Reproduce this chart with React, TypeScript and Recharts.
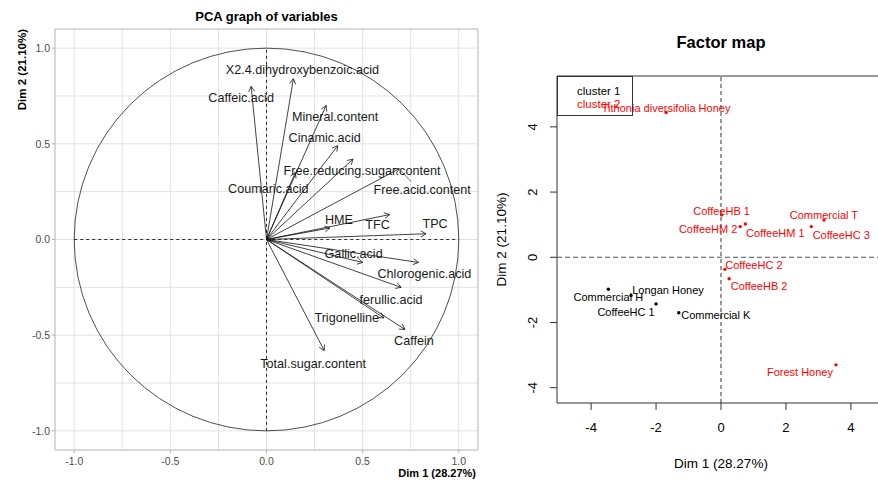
import React from 'react';
import {
  ScatterChart,
  Scatter,
  XAxis,
  YAxis,
  CartesianGrid,
  ReferenceLine,
  ReferenceArea,
  Legend,
} from 'recharts';

// ---- PCA graph of variables (correlation circle) ----
const varNames = [
  'Caffeic.acid',
  'X2.4.dihydroxybenzoic.acid',
  'Mineral.content',
  'Cinamic.acid',
  'Free.reducing.sugar.content',
  'Free.acid.content',
  'Coumaric.acid',
  'HME',
  'TFC',
  'TPC',
  'Gallic.acid',
  'Chlorogenic.acid',
  'ferullic.acid',
  'Trigonelline',
  'Caffein',
  'Total.sugar.content',
];
const varDim1 = [-0.08, 0.14, 0.31, 0.37, 0.45, 0.69, 0.15, 0.33, 0.64, 0.83, 0.5, 0.79, 0.7, 0.61, 0.72, 0.3];
const varDim2 = [0.8, 0.84, 0.7, 0.49, 0.42, 0.37, 0.35, 0.06, 0.13, 0.03, -0.12, -0.12, -0.25, -0.41, -0.47, -0.58];
// where each label sits relative to its arrow tip (px), like the repelled labels
const varLabelNudge = [
  [-10, 11], [9, -9], [9, 11], [-13, -8], [9, 11], [23, 21], [-27, 16], [9, -9],
  [-12, 10], [9, -10], [-9, -9], [6, 11], [-10, 12], [-37, 0], [9, 11], [-11, 13],
];
const corTicks = [-1, -0.5, 0, 0.5, 1];
const corGrid = [-1, -0.75, -0.5, -0.25, 0, 0.25, 0.5, 0.75, 1];
const corDomain = [-1.1, 1.1];

// ---- Factor map (individuals) ----
const c1Names = ['Commercial H', 'Longan Honey', 'CoffeeHC 1', 'Commercial K'];
const c1Dim1 = [-3.47, -2.77, -2.0, -1.3];
const c1Dim2 = [-0.98, -1.17, -1.43, -1.7];
const c1Nudge = [[0, 8], [37, -5], [-30, 8], [37, 2]];

const c2Names = [
  'Tithonia diversifolia Honey',
  'CoffeeHB 1',
  'Commercial T',
  'CoffeeHM 2',
  'CoffeeHM 1',
  'CoffeeHC 3',
  'CoffeeHC 2',
  'CoffeeHB 2',
  'Forest Honey',
];
const c2Dim1 = [-1.69, 0.02, 3.17, 0.59, 0.75, 2.78, 0.12, 0.25, 3.54];
const c2Dim2 = [4.44, 1.3, 1.14, 0.94, 1.02, 0.94, -0.37, -0.66, -3.3];
const c2Nudge = [[0, -5], [0, -4], [0, -5], [-32, 2], [30, 9], [30, 8], [29, -4], [30, 7], [-36, 7]];

const mapTicks = [-4, -2, 0, 2, 4];
const mapXDomain = [-5.05, 5.05];
const mapYDomain = [-4.47, 5.56];

const FONT = '"Liberation Sans", Arial, sans-serif';

const varData = varNames.map((name, i) => ({ name, x: varDim1[i], y: varDim2[i], nudge: varLabelNudge[i] }));
const c1Data = c1Names.map((name, i) => ({ name, x: c1Dim1[i], y: c1Dim2[i], nudge: c1Nudge[i] }));
const c2Data = c2Names.map((name, i) => ({ name, x: c2Dim1[i], y: c2Dim2[i], nudge: c2Nudge[i] }));

function Arrow(p: any) {
  const { x1, y1, x2, y2 } = p;
  const a = Math.atan2(y2 - y1, x2 - x1);
  const len = 6;
  const h = Math.PI / 6;
  const ax = x2 - len * Math.cos(a - h);
  const ay = y2 - len * Math.sin(a - h);
  const bx = x2 - len * Math.cos(a + h);
  const by = y2 - len * Math.sin(a + h);
  return (
    <g>
      <line x1={x1} y1={y1} x2={x2} y2={y2} stroke="#111" strokeWidth={0.8} />
      <path d={`M${ax},${ay}L${x2},${y2}L${bx},${by}`} fill="none" stroke="#111" strokeWidth={0.8} />
    </g>
  );
}

function VarLabel(p: any) {
  const { cx, cy, payload } = p;
  const [dx, dy] = payload.nudge;
  return (
    <g>
      {payload.name === 'Free.acid.content' && (
        <line x1={cx} y1={cy} x2={cx + 12} y2={cy + 13} stroke="#333" strokeWidth={0.7} />
      )}
      <text x={cx + dx} y={cy + dy + 4.5} textAnchor="middle" fontSize={12.6} fill="#1a1a1a">
        {payload.name}
      </text>
    </g>
  );
}

const pointShape = (color: string) => (p: any) => {
  const { cx, cy, payload } = p;
  const [dx, dy] = payload.nudge;
  return (
    <g>
      <circle cx={cx} cy={cy} r={1.7} fill={color} />
      <text x={cx + dx} y={cy + dy + 4} textAnchor="middle" fontSize={11} fill={color}>
        {payload.name}
      </text>
    </g>
  );
};

function Circle(p: any) {
  const { x, y, width, height } = p;
  return (
    <ellipse
      cx={x + width / 2}
      cy={y + height / 2}
      rx={width / 2}
      ry={height / 2}
      fill="none"
      stroke="#222"
      strokeWidth={0.8}
    />
  );
}

function MapYTick(p: any) {
  const { x, y, payload } = p;
  const bx = x - 13;
  return (
    <text x={bx} y={y} transform={`rotate(-90, ${bx}, ${y})`} textAnchor="middle" fontSize={13} fill="#000">
      {payload.value}
    </text>
  );
}

function VarChart() {
  return (
    <ScatterChart width={480} height={483} margin={{ top: 29, right: 2, bottom: 0, left: 0 }}>
      <CartesianGrid stroke="#e2e2e2" verticalValues={corGrid} horizontalValues={corGrid} />
      <XAxis
        type="number"
        dataKey="x"
        domain={corDomain}
        allowDataOverflow
        ticks={corTicks}
        tickFormatter={(v: number) => v.toFixed(1)}
        height={33}
        axisLine={false}
        tickLine={{ stroke: '#b3b3b3' }}
        tickSize={3}
        tickMargin={5}
        tick={{ fill: '#4d4d4d', fontSize: 10.5 }}
        label={{
          content: (lp: any) => {
            const vb = lp.viewBox;
            return (
              <text x={vb.x + vb.width - 2} y={vb.y + 27} textAnchor="end" fontSize={11} fontWeight="bold" fill="#000">
                Dim 1 (28.27%)
              </text>
            );
          },
        }}
      />
      <YAxis
        type="number"
        dataKey="y"
        domain={corDomain}
        allowDataOverflow
        ticks={corTicks}
        tickFormatter={(v: number) => v.toFixed(1)}
        width={55}
        axisLine={false}
        tickLine={{ stroke: '#b3b3b3' }}
        tickSize={3}
        tickMargin={2}
        tick={{ fill: '#4d4d4d', fontSize: 10.5 }}
        label={{
          content: (lp: any) => {
            const vb = lp.viewBox;
            const tx = vb.x + 26;
            const ty = vb.y;
            return (
              <text
                x={tx}
                y={ty}
                transform={`rotate(-90, ${tx}, ${ty})`}
                textAnchor="end"
                fontSize={11.5}
                fontWeight="bold"
                fill="#000"
              >
                Dim 2 (21.10%)
              </text>
            );
          },
        }}
      />
      <ReferenceArea
        x1={corDomain[0]}
        x2={corDomain[1]}
        y1={corDomain[0]}
        y2={corDomain[1]}
        fill="none"
        stroke="#b3b3b3"
        fillOpacity={0}
      />
      <ReferenceArea x1={-1} x2={1} y1={-1} y2={1} shape={Circle} />
      <ReferenceLine segment={[{ x: -1, y: 0 }, { x: 1, y: 0 }]} stroke="#000" strokeDasharray="3 3" strokeWidth={0.8} />
      <ReferenceLine segment={[{ x: 0, y: -1 }, { x: 0, y: 1 }]} stroke="#000" strokeDasharray="3 3" strokeWidth={0.8} />
      {varData.map((d) => (
        <ReferenceLine key={d.name} segment={[{ x: 0, y: 0 }, { x: d.x, y: d.y }]} shape={Arrow} />
      ))}
      <Scatter data={varData} shape={VarLabel} isAnimationActive={false} />
    </ScatterChart>
  );
}

function MapChart() {
  return (
    <ScatterChart width={410} height={483} margin={{ top: 76, right: 5, bottom: 0, left: 0 }}>
      <XAxis
        type="number"
        dataKey="x"
        domain={mapXDomain}
        allowDataOverflow
        ticks={mapTicks}
        height={80}
        axisLine={false}
        tickLine={{ stroke: '#333' }}
        tickSize={7}
        tickMargin={13}
        tick={{ fill: '#000', fontSize: 13 }}
        label={{
          content: (lp: any) => {
            const vb = lp.viewBox;
            return (
              <text x={vb.x + vb.width / 2} y={vb.y + 64.5} textAnchor="middle" fontSize={13.5} fill="#000">
                Dim 1 (28.27%)
              </text>
            );
          },
        }}
      />
      <YAxis
        type="number"
        dataKey="y"
        domain={mapYDomain}
        allowDataOverflow
        ticks={mapTicks}
        width={77}
        axisLine={false}
        tickLine={{ stroke: '#333' }}
        tickSize={7}
        tickMargin={0}
        tick={<MapYTick />}
        label={{
          content: (lp: any) => {
            const vb = lp.viewBox;
            const tx = vb.x + 25.7;
            const ty = vb.y + vb.height / 2;
            return (
              <text x={tx} y={ty} transform={`rotate(-90, ${tx}, ${ty})`} textAnchor="middle" fontSize={13.5} fill="#000">
                Dim 2 (21.10%)
              </text>
            );
          },
        }}
      />
      <ReferenceArea
        x1={mapXDomain[0]}
        x2={mapXDomain[1]}
        y1={mapYDomain[0]}
        y2={mapYDomain[1]}
        fill="none"
        fillOpacity={0}
        stroke="#333"
      />
      <ReferenceLine x={0} stroke="#333" strokeDasharray="4 3" />
      <ReferenceLine y={0} stroke="#555" strokeDasharray="5 3" />
      <Scatter name="cluster 1" data={c1Data} fill="#000000" shape={pointShape('#000000')} isAnimationActive={false} />
      <Scatter name="cluster 2" data={c2Data} fill="#ff0000" shape={pointShape('#ff0000')} isAnimationActive={false} />
      <Legend
        layout="horizontal"
        verticalAlign="middle"
        align="center"
        wrapperStyle={{ left: 77, top: 76, width: 76, height: 40 }}
        content={(lp: any) => (
          <div
            style={{
              boxSizing: 'border-box',
              width: 76,
              height: 40,
              border: '1px solid #333',
              padding: '8px 0 0 19px',
              fontSize: 11.5,
              lineHeight: '12.5px',
              fontFamily: FONT,
            }}
          >
            {(lp.payload || []).map((e: any) => (
              <div key={e.value} style={{ color: e.value === 'cluster 2' ? '#ff0000' : '#000' }}>
                {e.value}
              </div>
            ))}
          </div>
        )}
      />
    </ScatterChart>
  );
}

export default function App() {
  return (
    <div
      style={{
        position: 'absolute',
        left: 0,
        top: 0,
        width: 878,
        height: 483,
        overflow: 'hidden',
        background: '#fff',
        fontFamily: FONT,
      }}
    >
      <div style={{ position: 'absolute', left: 55, top: 9, width: 423, textAlign: 'center', fontSize: 13, fontWeight: 'bold', lineHeight: '16px' }}>
        PCA graph of variables
      </div>
      <div style={{ position: 'absolute', left: 0, top: 0 }}>
        <VarChart />
      </div>
      <div style={{ position: 'absolute', left: 480, top: 0, width: 410, height: 483 }}>
        <MapChart />
      </div>
      <div style={{ position: 'absolute', left: 557, top: 32, width: 328, textAlign: 'center', fontSize: 16.5, fontWeight: 'bold', lineHeight: '20px' }}>
        Factor map
      </div>
    </div>
  );
}
